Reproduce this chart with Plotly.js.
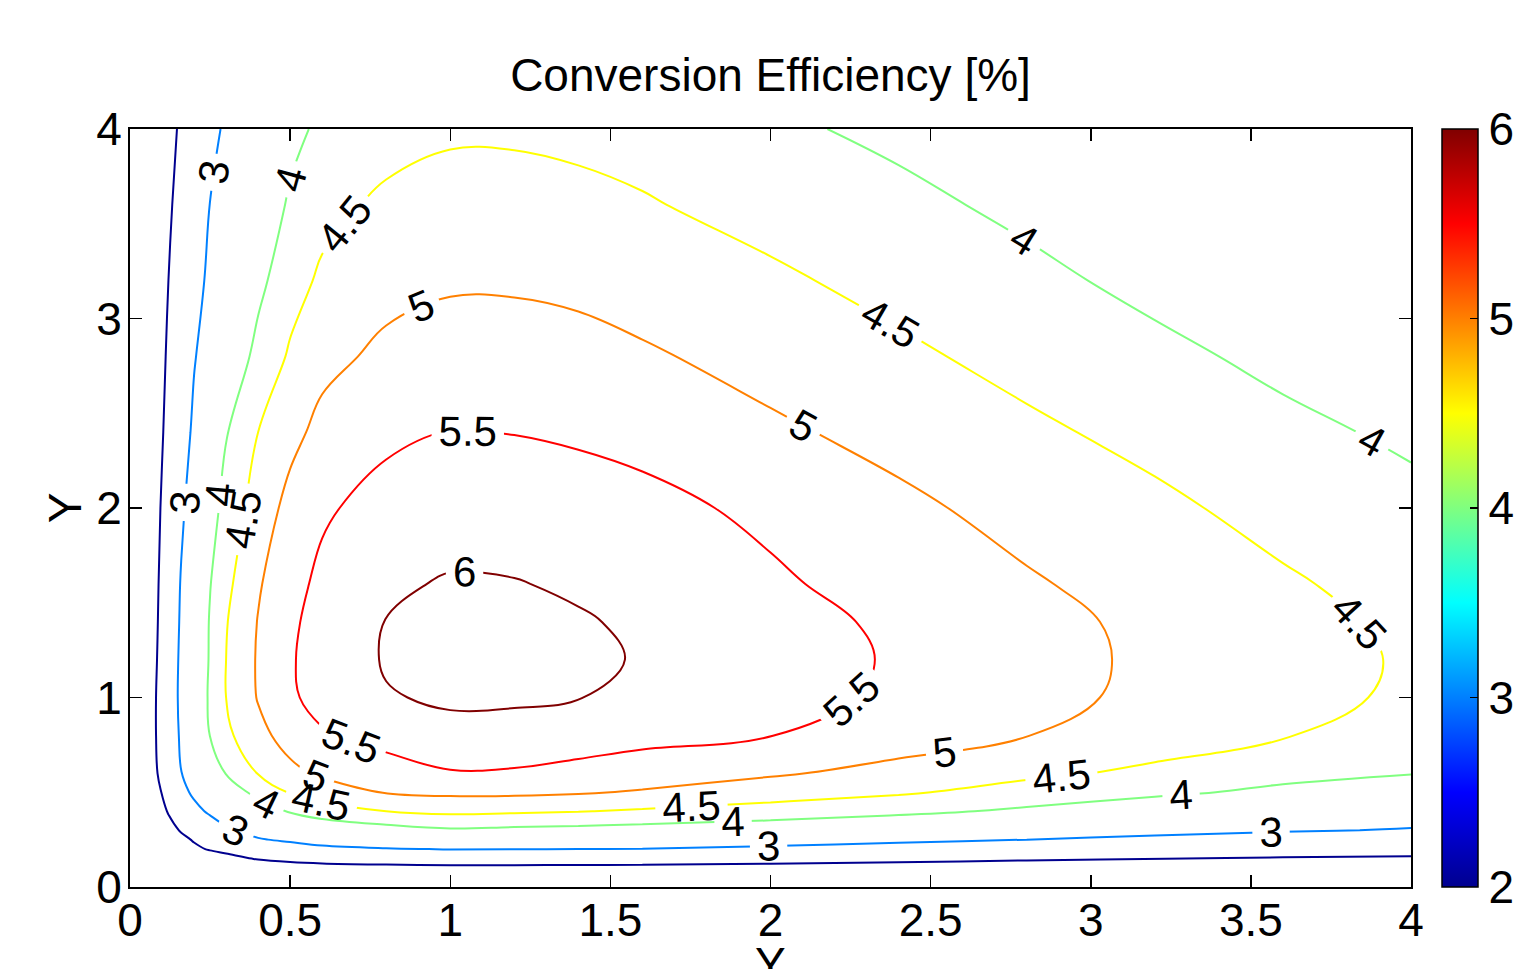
<!DOCTYPE html>
<html>
<head>
<meta charset="utf-8">
<script src="https://cdn.plot.ly/plotly-3.0.1.min.js"></script>
<style>
html,body{margin:0;padding:0;background:#fff;}
#chart{width:1517px;height:969px;}
</style>
</head>
<body>
<div id="chart"></div>
<script>
// Grid coordinates (data units)
const xVals = [0, 0.04, 0.08, 0.12, 0.16, 0.2, 0.25, 0.3, 0.4, 0.5, 0.6, 0.8, 1.0, 1.2, 1.4, 1.6, 2.0, 2.4, 2.8, 3.2, 3.6, 4.0];
const yVals = [0, 0.05, 0.1, 0.15, 0.2, 0.25, 0.3, 0.4, 0.5, 0.6, 0.8, 1.0, 1.2, 1.4, 1.6, 2.0, 2.4, 2.8, 3.2, 3.6, 4.0];

// Conversion efficiency [%], one row per y value
const zRows = [
  [0,0,0,0,0,0,0,0,0,0,0,0,0,0,0,0,0,0,0,0,0,0],
  [0,0.2,0.35,0.47,0.56,0.63,0.70,0.78,0.9,1.0,1.05,1.1,1.15,1.15,1.15,1.15,1.15,1.15,1.15,1.15,1.15,1.15],
  [0,0.33,0.6,0.82,0.97,1.11,1.29,1.39,1.5,1.67,1.72,1.78,1.82,1.82,1.81,1.8,1.75,1.72,1.68,1.65,1.62,1.6],
  [0,0.43,0.70,0.93,1.13,1.33,1.55,1.76,2.06,2.19,2.29,2.38,2.43,2.42,2.40,2.38,2.29,2.18,2.08,2.01,1.95,1.92],
  [0,0.60,0.97,1.28,1.57,1.84,2.07,2.21,2.50,2.68,2.84,2.96,3.02,3.01,3.0,2.98,2.86,2.71,2.54,2.44,2.34,2.25],
  [0,0.68,1.11,1.48,1.81,2.07,2.29,2.51,2.95,3.11,3.26,3.39,3.48,3.45,3.43,3.39,3.29,3.15,3.0,2.87,2.73,2.61],
  [0,0.80,1.29,1.72,2.07,2.31,2.61,2.92,3.22,3.42,3.63,3.80,3.94,3.89,3.85,3.80,3.68,3.50,3.30,3.17,3.06,2.96],
  [0,0.96,1.56,2.06,2.43,2.80,3.11,3.30,3.71,4.05,4.26,4.5,4.61,4.57,4.52,4.44,4.30,4.13,3.91,3.67,3.48,3.33],
  [0,1.08,1.76,2.30,2.79,3.13,3.40,3.68,4.16,4.53,4.75,5.03,5.10,5.10,5.05,4.95,4.73,4.56,4.32,4.10,3.89,3.68],
  [0,1.18,1.92,2.46,2.99,3.29,3.66,4.02,4.52,4.88,5.08,5.29,5.46,5.44,5.36,5.28,5.06,4.84,4.60,4.40,4.15,4.02],
  [0,1.22,1.98,2.57,3.10,3.51,4.01,4.39,4.86,5.19,5.46,5.67,5.88,5.87,5.73,5.63,5.51,5.25,5.01,4.74,4.53,4.25],
  [0,1.22,1.98,2.60,3.15,3.57,4.08,4.5,5.03,5.44,5.64,5.97,6.06,6.05,6.01,5.92,5.68,5.41,5.08,4.94,4.66,4.42],
  [0,1.19,1.93,2.57,3.13,3.54,4.05,4.5,5.05,5.46,5.68,6.04,6.17,6.18,6.08,5.97,5.72,5.45,5.10,4.95,4.68,4.45],
  [0,1.16,1.89,2.52,3.09,3.52,4.04,4.47,5.02,5.43,5.65,6.01,6.11,6.12,6.04,5.93,5.68,5.41,5.08,4.94,4.65,4.40],
  [0,1.14,1.86,2.47,3.05,3.46,3.98,4.38,4.945,5.37,5.59,5.93,6.04,6.02,5.94,5.81,5.57,5.31,5.05,4.81,4.56,4.32],
  [0,1.10,1.79,2.35,2.89,3.31,3.79,4.17,4.73,5.15,5.44,5.66,5.77,5.76,5.70,5.63,5.40,5.10,4.84,4.60,4.34,4.12],
  [0,1.04,1.69,2.21,2.69,3.12,3.54,3.97,4.50,4.86,5.14,5.41,5.51,5.49,5.44,5.36,5.08,4.85,4.59,4.36,4.11,3.92],
  [0,0.98,1.60,2.11,2.53,2.96,3.28,3.59,4.15,4.56,4.86,5.11,5.22,5.21,5.16,5.06,4.83,4.59,4.35,4.11,3.89,3.72],
  [0,0.93,1.51,2.0,2.38,2.77,3.13,3.37,3.87,4.31,4.58,4.84,4.94,4.94,4.89,4.79,4.58,4.35,4.11,3.88,3.70,3.56],
  [0,0.88,1.42,1.89,2.26,2.60,3.01,3.22,3.63,4.07,4.35,4.6,4.69,4.68,4.63,4.54,4.33,4.11,3.90,3.68,3.54,3.42],
  [0,0.82,1.33,1.76,2.12,2.43,2.81,3.10,3.48,3.86,4.1,4.3,4.43,4.43,4.38,4.32,4.08,3.9,3.72,3.5,3.4,3.3]
];

// Contour levels drawn
const contourLevels = [2, 3, 4, 4.5, 5, 5.5, 6];
// Whether each level carries in-line labels
const levelHasLabels = [false, true, true, true, true, true, true];
// Label density for each level (Plotly spaces labels by the level count of a trace)
const labelDensity = [1, 120, 80, 90, 100, 100, 30];

// Colour range and ticks
const colorRange = [2, 6];
const colorTicks = [2, 3, 4, 5, 6];
const xTicks = [0, 0.5, 1, 1.5, 2, 2.5, 3, 3.5, 4];
const xTickText = ['0', '0.5', '1', '1.5', '2', '2.5', '3', '3.5', '4'];
const yTicks = [0, 1, 2, 3, 4];
const yTickText = ['0', '1', '2', '3', '4'];
const titleText = 'Conversion Efficiency [%]';
const xTitleText = 'Y';
const yTitleText = 'Y';

const FONT = 'Liberation Sans, Arial, Helvetica, sans-serif';

// MATLAB-style jet
const jetStops = [
  [0, [0, 0, 143]],
  [0.125, [0, 0, 255]],
  [0.375, [0, 255, 255]],
  [0.625, [255, 255, 0]],
  [0.875, [255, 0, 0]],
  [1, [128, 0, 0]]
];
const jet = jetStops.map(s => [s[0], 'rgb(' + s[1].join(',') + ')']);

function jetColor(v) {
  const t = Math.max(0, Math.min(1, (v - colorRange[0]) / (colorRange[1] - colorRange[0])));
  for (let i = 1; i < jetStops.length; i++) {
    const a = jetStops[i - 1], b = jetStops[i];
    if (t <= b[0]) {
      const f = (t - a[0]) / (b[0] - a[0]);
      const c = a[1].map((ca, k) => Math.round(ca + (b[1][k] - ca) * f));
      return 'rgb(' + c.join(',') + ')';
    }
  }
  return 'rgb(128,0,0)';
}

// One trace per level; extra empty levels lie far above the data range
const PHANTOM_STEP = 100;
function levelTrace(level, labels, n) {
  const c = jetColor(level);
  return {
    type: 'contour',
    x: xVals, y: yVals, z: zRows,
    colorscale: [[0, c], [1, c]],
    showscale: false,
    autocontour: false,
    contours: {
      coloring: 'lines',
      start: level,
      end: level + PHANTOM_STEP * (n - 1),
      size: PHANTOM_STEP,
      showlabels: labels,
      labelformat: '.1~f',
      labelfont: {family: FONT, size: 42, color: '#000'}
    },
    line: {width: 2, smoothing: 1.1, color: c},
    hoverinfo: 'skip'
  };
}

const colorbarTrace = {
  type: 'heatmap',
  x: [10, 11], y: [10, 11],
  z: [[colorRange[0], colorRange[1]], [colorRange[0], colorRange[1]]],
  zmin: colorRange[0], zmax: colorRange[1], zauto: false,
  colorscale: jet,
  showscale: true,
  hoverinfo: 'skip',
  colorbar: {
    x: 1.0242, xanchor: 'left', xpad: 0,
    y: 0.5, yanchor: 'middle', ypad: 0,
    len: 1, lenmode: 'fraction',
    thickness: 36, thicknessmode: 'pixels',
    outlinewidth: 1.5, outlinecolor: '#000',
    tickvals: colorTicks,
    ticks: 'inside', ticklen: 8, tickwidth: 1.5, tickcolor: '#000',
    tickfont: {family: FONT, size: 46, color: '#000'}
  }
};

const axisCommon = {
  range: [0, 4],
  ticks: 'inside', ticklen: 12, tickwidth: 1.5, tickcolor: '#000',
  showline: true, linecolor: '#000', linewidth: 2, mirror: 'ticks',
  showgrid: false, zeroline: false,
  tickfont: {family: FONT, size: 46, color: '#000'}
};

const layout = {
  width: 1517, height: 969,
  margin: {l: 130, r: 106, t: 129, b: 82, autoexpand: false},
  paper_bgcolor: '#fff', plot_bgcolor: '#fff',
  font: {family: FONT, size: 46, color: '#000'},
  showlegend: false,
  title: {
    text: titleText,
    x: 0.5, xref: 'paper', xanchor: 'center',
    y: 1 - 75 / 969, yref: 'container', yanchor: 'middle',
    font: {family: FONT, size: 46, color: '#000'}
  },
  xaxis: Object.assign({}, axisCommon, {
    tickvals: xTicks, ticktext: xTickText,
    ticklabelstandoff: -8
  }),
  yaxis: Object.assign({}, axisCommon, {
    tickvals: yTicks, ticktext: yTickText,
    ticklabelstandoff: -3,
    title: {text: yTitleText, standoff: 0, font: {family: FONT, size: 46, color: '#000'}}
  }),
  annotations: [{
    text: xTitleText, xref: 'paper', yref: 'paper',
    x: 0.5, y: -0.064, xanchor: 'center', yanchor: 'top',
    showarrow: false, font: {family: FONT, size: 46, color: '#000'}
  }]
};

const traces = contourLevels.map((l, i) => levelTrace(l, levelHasLabels[i], labelDensity[i]));
traces.push(colorbarTrace);

Plotly.newPlot('chart', traces, layout, {displayModeBar: false, staticPlot: true});
</script>
</body>
</html>
